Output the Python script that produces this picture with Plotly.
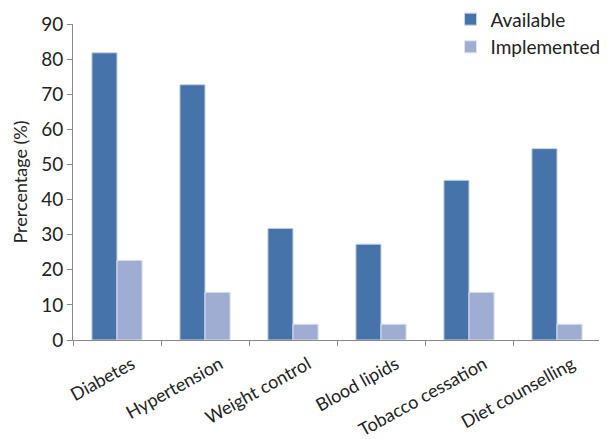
import plotly.graph_objects as go

categories = ["Diabetes", "Hypertension", "Weight control", "Blood lipids", "Tobacco cessation", "Diet counselling"]
available = [81.8, 72.7, 31.8, 27.3, 45.5, 54.5]
implemented = [22.7, 13.6, 4.5, 4.5, 13.6, 4.5]
y_ticks = [0, 10, 20, 30, 40, 50, 60, 70, 80, 90]

FONT = "Lato"
fig = go.Figure()
fig.add_trace(go.Bar(x=categories, y=available, name="Available", legendgroup="a",
                     marker=dict(color="#4673AA", line=dict(color="#c8d4e8", width=1))))
fig.add_trace(go.Bar(x=categories, y=implemented, name="Implemented", legendgroup="b",
                     marker=dict(color="#9FADD2", line=dict(color="#dde3f0", width=1))))

fig.update_layout(
    width=599, height=431,
    margin=dict(l=65, r=6, t=16, b=99, autoexpand=False),
    paper_bgcolor="white", plot_bgcolor="white",
    barmode="group", bargap=0.43, bargroupgap=0,
    font=dict(family=FONT, color="#222222", size=18),
    legend=dict(x=0.715, xanchor="left", y=1.075, yanchor="top",
                font=dict(size=19, family=FONT), itemwidth=30,
                traceorder="grouped", tracegroupgap=0,
                bgcolor="rgba(0,0,0,0)"),
    xaxis=dict(showline=True, linecolor="#8a8a8a", linewidth=1, ticks="outside",
               tickson="boundaries", tickcolor="#8a8a8a", ticklen=5, tickangle=-29,
               ticklabelshift=15, ticklabelstandoff=6,
               tickfont=dict(size=18, family=FONT), showgrid=False),
    yaxis=dict(range=[0, 90], tickvals=y_ticks, showline=True, linecolor="#8a8a8a",
               linewidth=1, ticks="outside", tickcolor="#8a8a8a", ticklen=5,
               showgrid=False, zeroline=False, tickfont=dict(size=19, family=FONT),
               title=dict(text="Prercentage (%)", font=dict(size=18, family=FONT), standoff=8)),
)
fig.write_html("out.html")
